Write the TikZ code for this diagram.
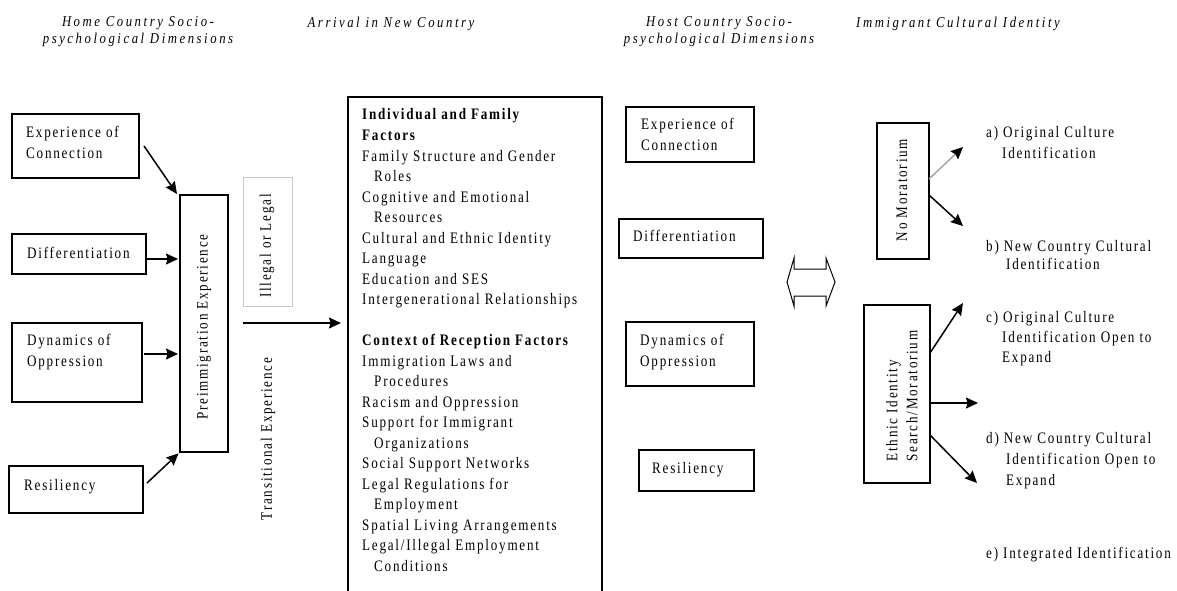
\documentclass[tikz,border=0pt]{standalone}
\usepackage{fontspec}
\setmainfont{Liberation Serif}[FakeStretch=0.82,LetterSpace=11]
\newfontfamily\headfont{Liberation Serif}[FakeStretch=0.85,LetterSpace=17]
\usetikzlibrary{arrows.meta,calc}
\begin{document}
\begin{tikzpicture}[x=1pt,y=-1pt,
  box/.style={draw, line width=1.6pt, inner sep=0pt, outer sep=0pt, anchor=north west},
  txt/.style={inner sep=0pt, anchor=base west, font=\fontsize{16}{20.5}\selectfont},
  rot/.style={inner sep=0pt, rotate=90, align=left, font=\fontsize{16}{20}\selectfont},
  head/.style={inner sep=0pt, align=center, font=\fontsize{15}{17}\selectfont\headfont\itshape},
  arr/.style={line width=1.5pt, -{Stealth[length=12pt,width=11pt,inset=1.5pt]}},
  ]
\useasboundingbox (0,0) rectangle (1177,591);
\clip (0,0) rectangle (1177,591);

% headings
\node[head] (h1) at (138,32) {Home Country Socio-\\psychological Dimensions};
\node[head] (h2) at (391,24) {Arrival in New Country};
\node[head] (h3) at (719,32) {Host Country Socio-\\psychological Dimensions};
\node[head] (h4) at (958,24) {Immigrant Cultural Identity};

% home country boxes
\node[box, minimum width=127pt, minimum height=64pt] (lc) at (12,114) {};
\node[txt] (lc1) at (26,138) {Experience of};
\node[txt] (lc2) at (26,158) {Connection};
\node[box, minimum width=134pt, minimum height=40pt] (ld) at (12,234) {};
\node[txt] (ld1) at (27,258) {Differentiation};
\node[box, minimum width=130pt, minimum height=79pt] (ly) at (12,323) {};
\node[txt] (ly1) at (27,345) {Dynamics of};
\node[txt] (ly2) at (27,366) {Oppression};
\node[box, minimum width=134pt, minimum height=47pt] (lr) at (9,466) {};
\node[txt] (lr1) at (24,490) {Resiliency};

% preimmigration
\node[box, minimum width=48pt, minimum height=257pt] (pre) at (180,195) {};
\node[rot] (pret) at (204,327) {Preimmigration Experience};

\coordinate (a1s) at ($(lc.east)+(5,0)$);
\draw[arr] (a1s) -- ($(pre.north west)+(-3,-1)$);
\coordinate (a2s) at ($(ld.east)+(0,5)$);
\draw[arr, shorten >=2pt] (a2s) -- (a2s -| pre.west);
\coordinate (a3s) at ($(ly.east)+(2,-8.5)$);
\draw[arr, shorten >=2pt] (a3s) -- (a3s -| pre.west);
\coordinate (a4s) at ($(lr.east)+(4,-6.5)$);
\draw[arr, shorten >=2pt] (a4s) -- (pre.south west);

% transition
\node[box, draw=gray!45, line width=0.8pt, minimum width=49pt, minimum height=129pt] (il) at (243,177) {};
\node[rot] (ilt) at (267,246) {Illegal or Legal};
\node[rot] (tr) at (268,439) {Transitional Experience};

% big box
\node[box, minimum width=254pt, minimum height=520pt] (big) at (348,97) {};
\coordinate (t0) at (243,323);
\draw[arr, shorten >=7pt] (t0) -- (t0 -| big.west);

\foreach \t [count=\i from 0] in {
  {\textbf{Individual and Family}},
  {\textbf{Factors}},
  {Family Structure and Gender},
  {\hspace*{12pt}Roles},
  {Cognitive and Emotional},
  {\hspace*{12pt}Resources},
  {Cultural and Ethnic Identity},
  {Language},
  {Education and SES},
  {Intergenerational Relationships},
  {},
  {\textbf{Context of Reception Factors}},
  {Immigration Laws and},
  {\hspace*{12pt}Procedures},
  {Racism and Oppression},
  {Support for Immigrant},
  {\hspace*{12pt}Organizations},
  {Social Support Networks},
  {Legal Regulations for},
  {\hspace*{12pt}Employment},
  {Spatial Living Arrangements},
  {Legal/Illegal Employment},
  {\hspace*{12pt}Conditions}}{
  \node[txt] (bt\i) at (362,120+20.5*\i) {\t};
}

% host country boxes
\node[box, minimum width=128pt, minimum height=55pt] (hc) at (626,107) {};
\node[txt] (hc1) at (641,130) {Experience of};
\node[txt] (hc2) at (641,150) {Connection};
\node[box, minimum width=144pt, minimum height=39pt] (hd) at (619,219) {};
\node[txt] (hd1) at (633,241) {Differentiation};
\node[box, minimum width=128pt, minimum height=64pt] (hy) at (626,322) {};
\node[txt] (hy1) at (640,345) {Dynamics of};
\node[txt] (hy2) at (640,366) {Oppression};
\node[box, minimum width=115pt, minimum height=41pt] (hr) at (639,450) {};
\node[txt] (hr1) at (652,473) {Resiliency};

% double arrow
\draw[line width=1pt, fill=white] (787,282) -- (794,258) -- (794,269) -- (826,269) -- (826,258)
  -- (835,282) -- (826,306) -- (826,296) -- (794,296) -- (794,306) -- cycle;

% identity boxes
\node[box, minimum width=52pt, minimum height=136pt] (nm) at (877,123) {};
\node[rot] (nmt) at (902,190) {No Moratorium};
\node[box, minimum width=66pt, minimum height=178pt] (eth) at (864,305) {};
\node[rot] (etht) at (902,396) {Ethnic Identity\\Search/Moratorium};

\coordinate (ea) at (963,147);
\coordinate (eb) at (963,226);
\draw[arr, draw=gray!70, -{Stealth[length=12pt,width=11pt,inset=1.5pt,black]}] ($(nm.east)+(0,-12)$) -- (ea);
\draw[arr] ($(nm.east)+(0,4)$) -- (eb);
\coordinate (ec) at (963,303);
\coordinate (ed) at (978,403);
\coordinate (ee) at (977,483);
\draw[arr] ($(eth.east)+(0,-41)$) -- (ec);
\draw[arr] ($(eth.east)+(0,9)$) -- (ed);
\draw[arr] ($(eth.east)+(0,41)$) -- (ee);

% outcomes
\node[txt] (oa1) at (986,138) {a) Original Culture};
\node[txt] (oa2) at (1002,158) {Identification};
\node[txt] (ob1) at (986,251) {b) New Country Cultural};
\node[txt] (ob2) at (1006,269) {Identification};
\node[txt] (oc1) at (986,322) {c) Original Culture};
\node[txt] (oc2) at (1002,342) {Identification Open to};
\node[txt] (oc3) at (1002,362) {Expand};
\node[txt] (od1) at (986,443) {d) New Country Cultural};
\node[txt] (od2) at (1006,464) {Identification Open to};
\node[txt] (od3) at (1006,485) {Expand};
\node[txt] (oe1) at (986,558) {e) Integrated Identification};
\end{tikzpicture}
\end{document}
